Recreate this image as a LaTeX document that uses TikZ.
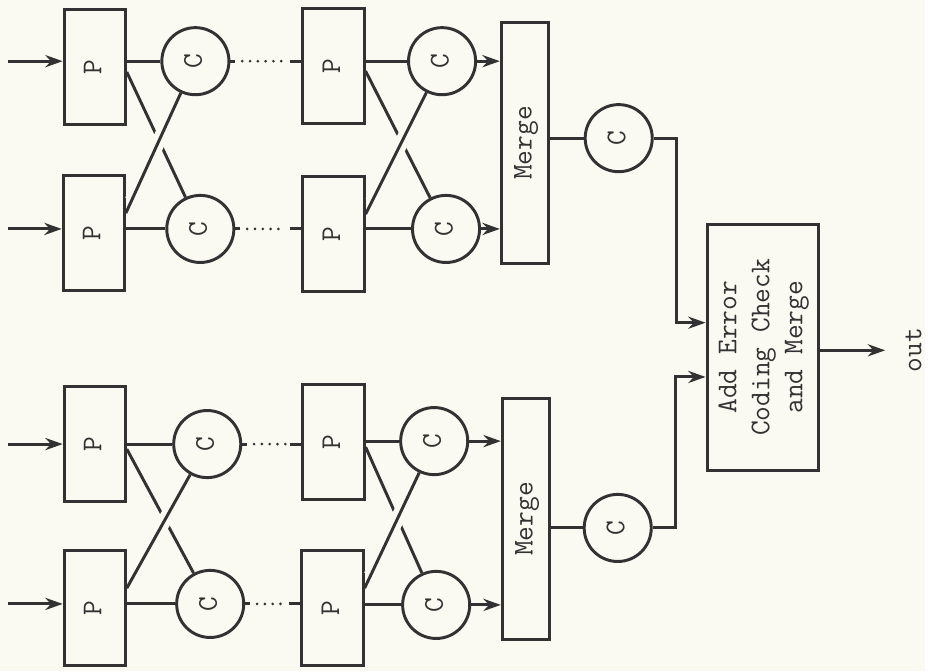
\documentclass[tikz,border=0pt]{standalone}
\usepackage{tikz}
\usetikzlibrary{arrows.meta, positioning, calc}
\definecolor{inkgray}{RGB}{50,50,50}
\definecolor{paper}{RGB}{250,250,243}
\newcommand{\vtxt}[1]{\rotatebox{90}{\begin{tabular}{@{}c@{}}#1\end{tabular}}}

\begin{document}
\begin{tikzpicture}[
    x=0.02cm, y=-0.02cm,
    every node/.style={font=\fontsize{16.5}{19}\selectfont\ttfamily, text=inkgray},
    pbox/.style={
      rectangle, draw=inkgray, line width=1.7pt,
      minimum width=1.24cm, minimum height=2.34cm, inner sep=0pt
    },
    cnode/.style={circle, draw=inkgray, line width=1.7pt, minimum size=1.36cm, inner sep=0pt},
    mergebox/.style={pbox, minimum width=0.96cm, minimum height=4.9cm},
    finbox/.style={pbox, minimum width=2.26cm, minimum height=5.0cm},
    link/.style={draw=inkgray, line width=1.7pt},
    arrow/.style={link, -{Stealth[length=10pt, width=7pt]}},
    dots/.style={link, line cap=round, dash pattern=on 0pt off 4.5pt},
    gap/.style={preaction={draw=paper, line width=8pt, shorten <=8pt, shorten >=8pt}}
  ]
    \fill[paper] (0,0) rectangle (937,680);
    \coordinate (lft) at (8,0);

    % upper group
    \node[pbox] (PA1) at (96,68) {\vtxt{P}};
    \node[pbox] (PA2) at (95,236) {\vtxt{P}};
    \node[cnode] (CA1) at (198,62) {\vtxt{C}};
    \node[cnode] (CA2) at (203,232) {\vtxt{C}};
    \node[pbox] (PA3) at (338,67) {\vtxt{P}};
    \node[pbox] (PA4) at (338,237) {\vtxt{P}};
    \node[cnode] (CA3) at (448,62) {\vtxt{C}};
    \node[cnode] (CA4) at (452,232) {\vtxt{C}};
    \node[mergebox] (MA) at (532,145) {\vtxt{Merge}};
    \node[cnode] (CA5) at (627,140) {\vtxt{C}};

    % lower group
    \node[pbox] (PB1) at (96,450) {\vtxt{P}};
    \node[pbox] (PB2) at (96,616) {\vtxt{P}};
    \node[cnode] (CB1) at (210,450) {\vtxt{C}};
    \node[cnode] (CB2) at (213,612) {\vtxt{C}};
    \node[pbox] (PB3) at (338,448) {\vtxt{P}};
    \node[pbox] (PB4) at (337,616) {\vtxt{P}};
    \node[cnode] (CB3) at (440,447) {\vtxt{C}};
    \node[cnode] (CB4) at (442,613) {\vtxt{C}};
    \node[mergebox] (MB) at (533,526) {\vtxt{Merge}};
    \node[cnode] (CB5) at (626,535) {\vtxt{C}};

    % final stage
    \node[finbox] (fin) at (773,352) {\vtxt{Add Error\\Coding Check\\and Merge}};
    \coordinate (outend) at (897,355);
    \node (outlbl) at (927,355) {\vtxt{out}};
    \coordinate (inA) at ($(fin.west)+(0,-25)$);
    \coordinate (inB) at ($(fin.west)+(0,30)$);

    % inputs and P -> C links
    \foreach \p/\c in {PA1/CA1, PA2/CA2, PB1/CB1, PB2/CB2}
      \draw[arrow] (lft |- \c.west) -- (\c.west -| \p.west);
    \foreach \p/\c in {PA1/CA1, PA2/CA2, PA3/CA3, PA4/CA4,
                       PB1/CB1, PB2/CB2, PB3/CB3, PB4/CB4}
      \draw[link] (\p.east |- \c.west) -- (\c.west);

    % dotted chains
    \foreach \c/\p in {CA1/PA3, CA2/PA4, CB1/PB3, CB2/PB4} {
      \draw[link] (\c.east) -- ++(5,0);
      \draw[dots] ($(\c.east)+(12,0)$) -- ($(\c.east -| \p.west)+(-16,0)$);
      \draw[link] ($(\c.east -| \p.west)+(-12,0)$) -- (\c.east -| \p.west);
    }

    % cross links
    \draw[link] ($(PA1.north east)+(0,65)$) -- (CA2);
    \draw[link, gap] ($(PA2.north east)+(0,40)$) -- (CA1);
    \draw[link] ($(PA3.north east)+(0,65)$) -- (CA4);
    \draw[link, gap] ($(PA4.north east)+(0,40)$) -- (CA3);
    \draw[link] ($(PB1.north east)+(0,65)$) -- (CB2);
    \draw[link, gap] ($(PB2.north east)+(0,40)$) -- (CB1);
    \draw[link] ($(PB3.north east)+(0,65)$) -- (CB4);
    \draw[link, gap] ($(PB4.north east)+(0,40)$) -- (CB3);

    % into the merges
    \foreach \c/\m in {CA3/MA, CA4/MA, CB3/MB, CB4/MB}
      \draw[arrow] (\c.east) -- (\c.east -| \m.west);
    \draw[link] (MA.east |- CA5.west) -- (CA5.west);
    \draw[link] (MB.east |- CB5.west) -- (CB5.west);

    \draw[arrow] (CA5.east) -- ++(23,0) |- (inA);
    \draw[arrow] (CB5.east) -- ++(23,0) |- (inB);
    \draw[arrow] (fin.east |- outend) -- (outend);
  \end{tikzpicture}
\end{document}
